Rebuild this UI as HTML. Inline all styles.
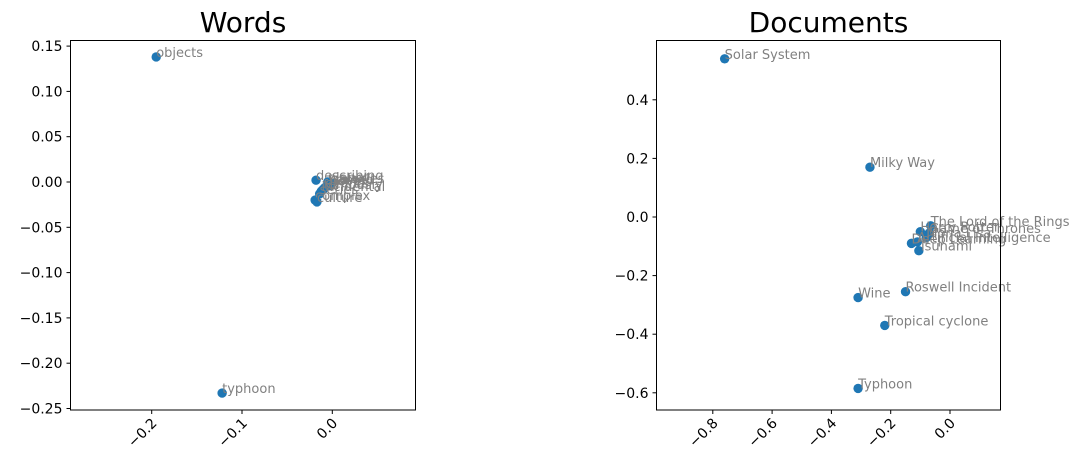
<!DOCTYPE html>
<html><head><meta charset="utf-8"><style>
body{margin:0;background:#fff;width:1089px;height:471px;overflow:hidden}
svg{font-family:"DejaVu Sans","Liberation Sans",sans-serif}
</style></head><body>
<svg id="chart" width="1089" height="471" xmlns="http://www.w3.org/2000/svg"></svg>
<script>
const wordLabels=["objects","typhoon","describing","planet","galaxies","named","novel","events","famously","incidental","series","complex","culture"];
const wordX=[-0.195,-0.122,-0.018,-0.005,-0.002,-0.004,-0.003,-0.008,-0.010,-0.012,-0.014,-0.019,-0.017];
const wordY=[0.138,-0.233,0.002,0.000,-0.001,-0.002,-0.004,-0.006,-0.008,-0.010,-0.013,-0.020,-0.022];
const docLabels=["Solar System","Milky Way","The Lord of the Rings","Harry Potter","Game of Thrones","Mona Lisa","Artificial Intelligence","Deep Learning","Tsunami","Roswell Incident","Wine","Tropical cyclone","Typhoon"];
const docX=[-0.76,-0.27,-0.065,-0.10,-0.07,-0.08,-0.11,-0.13,-0.105,-0.15,-0.31,-0.22,-0.31];
const docY=[0.54,0.17,-0.03,-0.05,-0.055,-0.07,-0.085,-0.09,-0.115,-0.255,-0.275,-0.37,-0.585];
const leftXVals=[-0.2,-0.1,0];
const leftYVals=[0.15,0.10,0.05,0.00,-0.05,-0.10,-0.15,-0.20,-0.25];
const rightXVals=[-0.8,-0.6,-0.4,-0.2,0];
const rightYVals=[0.4,0.2,0.0,-0.2,-0.4,-0.6];
const NS="http://www.w3.org/2000/svg",svg=document.getElementById('chart');
function el(t,a,p){const e=document.createElementNS(NS,t);for(const k in a)e.setAttribute(k,a[k]);(p||svg).appendChild(e);return e;}
function fmt(v,d){return (v<0?"−":"")+Math.abs(v).toFixed(d);}
function panel(cfg){
 const g=el('g',{});
 
 
 const sx=v=>cfg.x0+v*cfg.kx, sy=v=>cfg.y0-v*cfg.ky;
 cfg.xs.forEach(v=>{const x=sx(v);el('line',{x1:x,x2:x,y1:cfg.B,y2:cfg.B+4,stroke:'#000'},g);
  const t=el('text',{x:0,y:0,'font-size':14,'text-anchor':'end',transform:`translate(${x+6},${cfg.B+14}) rotate(-45)`},g);t.textContent=fmt(v,cfg.xd);
  });
 cfg.ys.forEach(v=>{const y=sy(v);el('line',{x1:cfg.L-4,x2:cfg.L,y1:y,y2:y,stroke:'#000'},g);
  const t=el('text',{x:cfg.L-8,y:y+5,'font-size':14,'text-anchor':'end'},g);t.textContent=fmt(v,cfg.yd);
  });
 cfg.px.forEach((v,i)=>{const x=sx(v),y=sy(cfg.py[i]);
  const c=el('circle',{cx:x,cy:y,r:4.7,fill:'#1f77b4'},g);
  
  const t=el('text',{x:x,y:y,'font-size':13,fill:'#808080'},g);t.textContent=cfg.lab[i];
  });
 el('rect',{x:cfg.L,y:40.5,width:cfg.R-cfg.L,height:cfg.B-40.5,fill:'none',stroke:'#000','stroke-width':1},g);
 const tt=el('text',{x:(cfg.L+cfg.R)/2,y:32,'font-size':28,'text-anchor':'middle'},g);tt.textContent=cfg.title;
 
}
panel({name:'words-plot',title:'Words',L:70.5,R:415.5,B:410,x0:332.3,kx:903,y0:182,ky:906,xs:leftXVals,ys:leftYVals,xd:1,yd:2,px:wordX,py:wordY,lab:wordLabels});
panel({name:'documents-plot',title:'Documents',L:656.5,R:1000.5,B:410,x0:950,kx:296.5,y0:217,ky:293,xs:rightXVals,ys:rightYVals,xd:1,yd:1,px:docX,py:docY,lab:docLabels});
</script>
</body></html>
